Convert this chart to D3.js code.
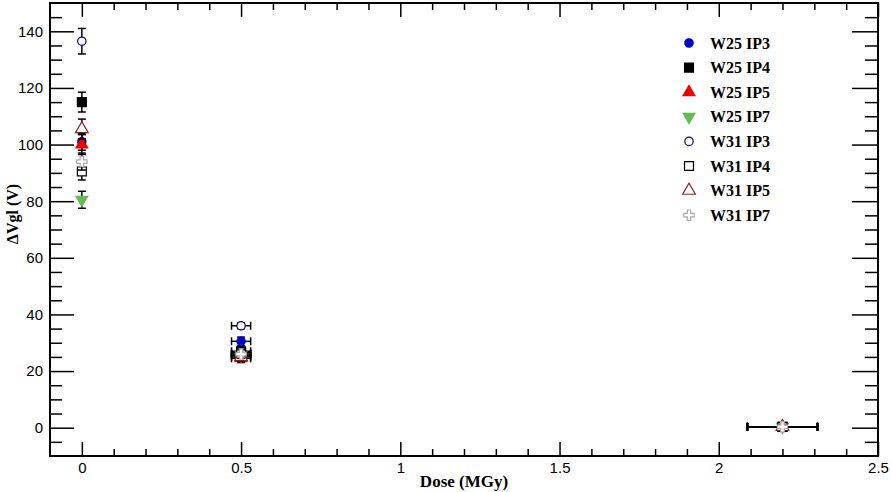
<!DOCTYPE html>
<html><head><meta charset="utf-8">
<script src="https://cdn.jsdelivr.net/npm/d3@7"></script>
<style>body{margin:0;background:#fff}svg{display:block}</style>
</head><body>
<script>
// ---- data ----
const doses = [0, 0.5, 2.2];
const doseErr = [0, 0.03, 0.11];
const seriesNames = ["W25 IP3","W25 IP4","W25 IP5","W25 IP7","W31 IP3","W31 IP4","W31 IP5","W31 IP7"];
const w25ip3 = [101, 30.5, 0.3],  w25ip3Err = [3, 1.5, 0.5];
const w25ip4 = [115, 27, 0.3],    w25ip4Err = [3.5, 1.5, 0.5];
const w25ip5 = [100, 24.5, 0.3],  w25ip5Err = [3.5, 1.5, 0.5];
const w25ip7 = [80.5, 25.5, 0.3], w25ip7Err = [3, 1.5, 0.5];
const w31ip3 = [136.5, 36, 0.3],  w31ip3Err = [4.5, 1, 0.5];
const w31ip4 = [90.5, 26.5, 0.3], w31ip4Err = [3, 1.5, 0.5];
const w31ip5 = [105.5, 25, 0.3],  w31ip5Err = [3.5, 1.5, 0.5];
const w31ip7 = [94, 26, 0.3],     w31ip7Err = [3, 1.5, 0.5];
const xTicks = [0, 0.5, 1, 1.5, 2, 2.5];
const yTicks = [0, 20, 40, 60, 80, 100, 120, 140];

const values = [w25ip3,w25ip4,w25ip5,w25ip7,w31ip3,w31ip4,w31ip5,w31ip7];
const errs = [w25ip3Err,w25ip4Err,w25ip5Err,w25ip7Err,w31ip3Err,w31ip4Err,w31ip5Err,w31ip7Err];
const styles = [
  {type:d3.symbolCircle, size:55, fill:"#0000cc", stroke:"#0000cc", rot:0},
  {type:d3.symbolSquare, size:80, fill:"#000", stroke:"#000", rot:0},
  {type:d3.symbolTriangle, size:60, fill:"#ee0000", stroke:"#ee0000", rot:0},
  {type:d3.symbolTriangle, size:60, fill:"#66bb55", stroke:"#66bb55", rot:180},
  {type:d3.symbolCircle, size:55, fill:"#fff", stroke:"#000080", rot:0},
  {type:d3.symbolSquare, size:80, fill:"#fff", stroke:"#000", rot:0},
  {type:d3.symbolTriangle, size:70, fill:"#fff", stroke:"#8b2020", rot:0},
  {type:d3.symbolCross, size:60, fill:"#fff", stroke:"#aaa", rot:0}
];

const W = 892, H = 492;
const m = {l:50, r:14, t:3, b:36};
const svg = d3.select("body").append("svg").attr("width",W).attr("height",H);
const x = d3.scaleLinear().domain([-0.1, 2.5]).range([m.l, W-m.r]);
const y = d3.scaleLinear().domain([-10, 150]).range([H-m.b, m.t]);

const xMinor = d3.range(0, 2.51, 0.1).map(v=>+v.toFixed(2)).filter(v=>!xTicks.includes(v));
const yMinor = d3.range(-5, 150, 5).filter(v=>!yTicks.includes(v));

function styleAxis(g){ g.select(".domain").remove(); g.selectAll("line").attr("stroke","#000").attr("stroke-width",1.5); }
const tickFont = "'Liberation Sans', Arial, sans-serif";

// bottom
svg.append("g").attr("transform",`translate(0,${y(-10)})`)
  .call(d3.axisBottom(x).tickValues(xTicks).tickSize(-14).tickPadding(6).tickFormat(d3.format("~g")))
  .call(styleAxis).call(g=>g.selectAll("text").attr("font-family",tickFont).attr("font-size",15).attr("fill","#000"));
svg.append("g").attr("transform",`translate(0,${y(-10)})`)
  .call(d3.axisBottom(x).tickValues(xMinor).tickSize(-7).tickFormat("")).call(styleAxis);
// top
svg.append("g").attr("transform",`translate(0,${y(150)})`)
  .call(d3.axisTop(x).tickValues(xTicks).tickSize(-14).tickFormat("")).call(styleAxis);
svg.append("g").attr("transform",`translate(0,${y(150)})`)
  .call(d3.axisTop(x).tickValues(xMinor).tickSize(-7).tickFormat("")).call(styleAxis);
// left
svg.append("g").attr("transform",`translate(${x(-0.1)},0)`)
  .call(d3.axisLeft(y).tickValues(yTicks).tickSize(-24).tickPadding(7))
  .call(styleAxis).call(g=>g.selectAll("text").attr("font-family",tickFont).attr("font-size",15).attr("fill","#000"));
svg.append("g").attr("transform",`translate(${x(-0.1)},0)`)
  .call(d3.axisLeft(y).tickValues(yMinor).tickSize(-12).tickFormat("")).call(styleAxis);
// right
svg.append("g").attr("transform",`translate(${x(2.5)},0)`)
  .call(d3.axisRight(y).tickValues(yTicks).tickSize(-26).tickFormat("")).call(styleAxis);
svg.append("g").attr("transform",`translate(${x(2.5)},0)`)
  .call(d3.axisRight(y).tickValues(yMinor).tickSize(-13).tickFormat("")).call(styleAxis);

// frame
svg.append("rect").attr("x",x(-0.1)).attr("y",y(150)).attr("width",x(2.5)-x(-0.1)).attr("height",y(-10)-y(150))
  .attr("fill","none").attr("stroke","#000").attr("stroke-width",2);

// axis titles
const serif = "'Liberation Serif', 'Times New Roman', serif";
svg.append("text").attr("x",(x(-0.1)+x(2.5))/2).attr("y",487).attr("text-anchor","middle")
  .attr("font-family",serif).attr("font-weight","bold").attr("font-size",17).text("Dose (MGy)");
svg.append("text").attr("transform","translate(18,214) rotate(-90)").attr("text-anchor","middle")
  .attr("font-family",serif).attr("font-weight","bold").attr("font-size",16).text("ΔVgl (V)");

// data
const cap = 4;
values.forEach((vals, si)=>{
  const st = styles[si];
  const g = svg.append("g");
  vals.forEach((v, i)=>{
    const cx = x(doses[i]), cy = y(v);
    const e = errs[si][i], xe = doseErr[i];
    const eg = g.append("g").attr("stroke","#000").attr("stroke-width",1.5);
    if (e > 0.8) {
      eg.append("line").attr("x1",cx).attr("x2",cx).attr("y1",y(v-e)).attr("y2",y(v+e));
      eg.append("line").attr("x1",cx-cap).attr("x2",cx+cap).attr("y1",y(v+e)).attr("y2",y(v+e));
      eg.append("line").attr("x1",cx-cap).attr("x2",cx+cap).attr("y1",y(v-e)).attr("y2",y(v-e));
    }
    if (xe > 0) {
      eg.append("line").attr("x1",x(doses[i]-xe)).attr("x2",x(doses[i]+xe)).attr("y1",cy).attr("y2",cy);
      eg.append("line").attr("x1",x(doses[i]-xe)).attr("x2",x(doses[i]-xe)).attr("y1",cy-cap).attr("y2",cy+cap);
      eg.append("line").attr("x1",x(doses[i]+xe)).attr("x2",x(doses[i]+xe)).attr("y1",cy-cap).attr("y2",cy+cap);
    }
    g.append("path").attr("d", d3.symbol().type(st.type).size(st.size)())
      .attr("transform",`translate(${cx},${cy}) rotate(${st.rot})`)
      .attr("fill",st.fill).attr("stroke",st.stroke).attr("stroke-width",1.2);
  });
});

// legend
const leg = svg.append("g");
seriesNames.forEach((name, i)=>{
  const st = styles[i];
  const ly = 43 + i*24.6;
  leg.append("path").attr("d", d3.symbol().type(st.type).size(st.size)())
    .attr("transform",`translate(689,${ly}) rotate(${st.rot})`)
    .attr("fill",st.fill).attr("stroke",st.stroke).attr("stroke-width",1.2);
  leg.append("text").attr("x",710).attr("y",ly+5.5).attr("font-family",serif).attr("font-weight","bold")
    .attr("font-size",16).text(name);
});
</script>
</body></html>
